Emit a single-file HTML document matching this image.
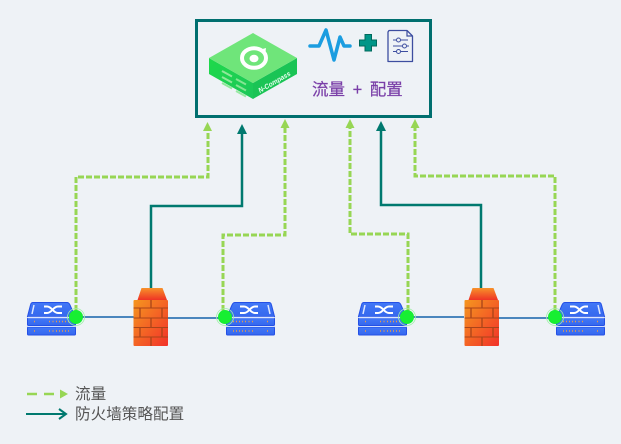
<!DOCTYPE html>
<html>
<head>
<meta charset="utf-8">
<style>
html,body{margin:0;padding:0;background:#eef2f6;}
svg{display:block;}
text{font-family:"Liberation Sans","Noto Sans CJK SC",sans-serif;}
</style>
</head>
<body>
<svg width="621" height="444" viewBox="0 0 621 444" xmlns="http://www.w3.org/2000/svg">
<defs>
  <linearGradient id="sw" x1="0" y1="0" x2="0" y2="1"><stop offset="0" stop-color="#4278f7"/><stop offset="1" stop-color="#3568ee"/></linearGradient>
  <linearGradient id="brick" x1="0" y1="0" x2="1" y2="1"><stop offset="0" stop-color="#f5961f"/><stop offset="1" stop-color="#f2322a"/></linearGradient>
  <linearGradient id="roof" x1="0" y1="0" x2="0" y2="1"><stop offset="0" stop-color="#f7922a"/><stop offset="1" stop-color="#ef3325"/></linearGradient>
  <linearGradient id="leftf" x1="0" y1="0" x2="1" y2="1"><stop offset="0" stop-color="#1fd94a"/><stop offset="1" stop-color="#1cc75a"/></linearGradient>
  <g id="switch">
    <path d="M6 0.500H40Q42 0.500 43 3L48 14.500H0.500L3.500 3Q4 0.500 6 0.500Z" fill="url(#sw)" stroke="#2450e6" stroke-width="1"/>
    <path d="M7 3L5 12" stroke="#dfe8ff" stroke-width="1.500" fill="none"/>
    <path d="M17 4.500H20C25 4.500 26 11 31 11H35M17 11H20C25 11 26 4.500 31 4.500H35" stroke="#fff" stroke-width="2" fill="none"/>
    <rect x="0.500" y="16" width="48" height="7.500" rx="1" fill="url(#sw)" stroke="#2450e6"/>
    <rect x="0.500" y="25" width="48" height="8" rx="1" fill="url(#sw)" stroke="#2450e6"/>
    <path d="M1 15.500H48" stroke="#dbe5ff" stroke-width="1.400"/>
    <path d="M1 24.500H48" stroke="#cfdcff" stroke-width="1"/>
    <path d="M7 19.500h1M22 19.500h1M25.500 19.500h1M29 19.500h1M32 19.500h1M35 19.500h1M38 19.500h1M41 19.500h1M7 29h1M22 29h1M25.500 29h1M29 29h1M32 29h1M35 29h1M38 29h1M41 29h1" stroke="#e89a4a" stroke-width="1.500"/>
  </g>
  <g id="firewall">
    <path d="M4 12L8 0H29L33.500 12Z" fill="url(#roof)"/>
    <rect x="0" y="12" width="34.500" height="46" rx="1" fill="url(#brick)"/>
    <path d="M0 20H34.500M0 30H34.500M0 39.500H34.500M0 49H34.500" stroke="#a9441a" stroke-width="1"/>
    <path d="M17.500 12V20M6.500 20V30M28.500 20V30M17.500 30V39.500M6.500 39.500V49M28.500 39.500V49M17.500 49V58" stroke="#a9441a" stroke-width="1.300"/>
  </g>
</defs>

<rect width="621" height="444" fill="#eef2f6"/>

<!-- host box -->
<rect x="196.500" y="20.500" width="234" height="96" fill="none" stroke="#006f6f" stroke-width="3"/>

<!-- N-Compass device -->
<path d="M209 58L253 83V99L209 74Z" fill="url(#leftf)"/>
<path d="M297 58L253 83V99L297 74Z" fill="#1ac455"/>
<path d="M253 33L297 58L253 83L209 58Z" fill="#6fe57a"/>
<ellipse cx="254" cy="58" rx="12" ry="9.800" fill="none" stroke="#fff" stroke-width="4"/>
<ellipse cx="254" cy="58.500" rx="4.500" ry="3.700" fill="#fff"/>
<path d="M259 50L266 48L265 56Z" fill="#fff"/>
<g stroke="#8fe89a" stroke-width="2" fill="none">
  <path d="M222 71L232 76.500M222 77L232 82.500M222 83L232 88.500"/>
  <path d="M236 79L246 84.500M236 85L246 90.500M236 91L246 96.500" opacity=".9"/>
</g>
<text x="260" y="93" font-size="7" font-style="italic" font-weight="bold" fill="#e8fff0" textLength="36" lengthAdjust="spacingAndGlyphs" transform="rotate(-30 260 93)">N-Compass</text>

<!-- waveform -->
<path d="M310 46H319L326 30L334 60L340 37L344 46H350" fill="none" stroke="#1b9de0" stroke-width="3.500" stroke-linejoin="round" stroke-linecap="round"/>
<!-- plus -->
<path d="M365 34.500H371.500V40H376.500V46H371.500V51H365V46H359.500V40H365Z" fill="#009688" stroke="#00695c" stroke-width="1"/>
<!-- doc -->
<path d="M389 30.500H407L412.500 36V61.500H388V32Z" fill="none" stroke="#3d4ea0" stroke-width="1.300" stroke-linejoin="round"/>
<path d="M407 31V36H412" fill="none" stroke="#3d4ea0" stroke-width="1.200"/>
<path d="M393 40H396M401 40H408M393 46H402M407 46H409M393 51.500H396M401 51.500H408" stroke="#3d4ea0" stroke-width="1"/>
<circle cx="398.500" cy="40" r="2" fill="none" stroke="#3d4ea0"/>
<circle cx="404.500" cy="46" r="2" fill="none" stroke="#3d4ea0"/>
<circle cx="398.500" cy="51.500" r="2" fill="none" stroke="#3d4ea0"/>

<text x="312" y="95" font-size="16.500" fill="#7a3fa8" stroke="#7a3fa8" stroke-width="0.200" word-spacing="3">流量 + 配置</text>

<!-- horizontal links -->
<path d="M76 317H134M168 318H226M406 317H464M499 318H556" stroke="#4a86bd" stroke-width="2" fill="none"/>

<!-- dashed flow connectors -->
<g fill="none" stroke="#97d654" stroke-width="3" stroke-dasharray="6 2">
  <path d="M76 311V177H208V130"/>
  <path d="M223 311V235H285V128"/>
  <path d="M408 311V234H350V128"/>
  <path d="M555 311V176H415V128"/>
</g>
<g fill="#97d654">
  <path d="M207.500 122L212 131H203Z"/>
  <path d="M285 119L289.500 128H280.500Z"/>
  <path d="M350 119L354.500 128H345.500Z"/>
  <path d="M415 119L419.500 128H410.500Z"/>
</g>

<!-- solid policy connectors -->
<g fill="none" stroke="#00796f" stroke-width="2.500">
  <path d="M151 290V206H242V130"/>
  <path d="M481 290V205H381V130"/>
</g>
<g fill="#00796f">
  <path d="M242 124L247 134H237Z"/>
  <path d="M381 121L386 131H376Z"/>
</g>

<!-- switches -->
<use href="#switch" x="27" y="302"/>
<use href="#switch" transform="translate(275 302) scale(-1 1)"/>
<use href="#switch" x="358" y="302"/>
<use href="#switch" transform="translate(605 302) scale(-1 1)"/>

<!-- firewalls -->
<use href="#firewall" x="133.500" y="288"/>
<use href="#firewall" x="464.500" y="288"/>

<!-- green dots -->
<g fill="#17ef32">
  <circle cx="76" cy="317" r="7"/>
  <circle cx="225" cy="317" r="7"/>
  <circle cx="407" cy="317" r="7"/>
  <circle cx="555" cy="317" r="7"/>
</g>
<g fill="none" stroke="#9ff0a8" stroke-width="0.800">
  <circle cx="76" cy="317" r="8.500"/>
  <circle cx="225" cy="317" r="8.500"/>
  <circle cx="407" cy="317" r="8.500"/>
  <circle cx="555" cy="317" r="8.500"/>
</g>

<!-- legend -->
<path d="M27 394H37M44 394H54" stroke="#97d654" stroke-width="2.500" fill="none"/>
<path d="M60 389.500L68 394L60 398.500Z" fill="#97d654"/>
<path d="M26 414H66" stroke="#00796f" stroke-width="2"/>
<path d="M59 409L66 414L59 419" stroke="#00796f" stroke-width="2" fill="none"/>
<text x="75" y="399" font-size="15.600" fill="#555">流量</text>
<text x="75" y="419" font-size="15.600" fill="#555">防火墙策略配置</text>
</svg>
</body>
</html>
